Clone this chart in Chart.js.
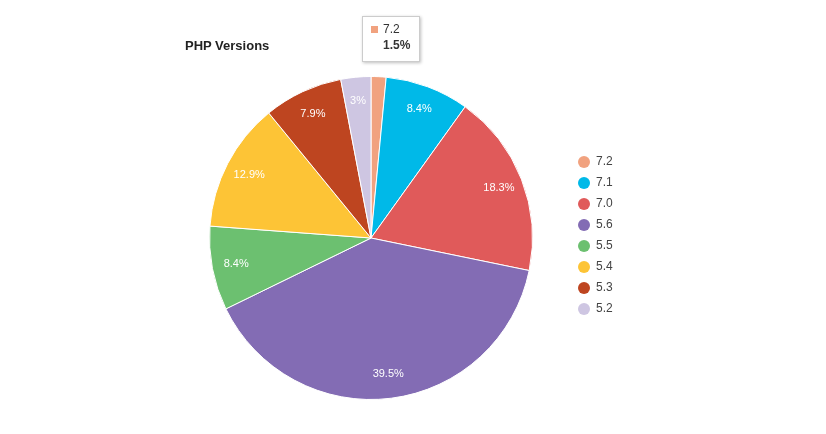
<!DOCTYPE html>
<html><head><meta charset="utf-8">
<script src="https://cdn.jsdelivr.net/npm/chart.js@4"></script>
<style>
body{margin:0;background:#fff;font-family:Arial,"Liberation Sans",sans-serif}
#wrap{position:relative;width:826px;height:434px}
#title{position:absolute;left:185px;top:38px;font-weight:bold;font-size:13px;color:#222}
#tip{position:absolute;left:362px;top:16px;width:56px;height:44px;background:#fff;border:1px solid #ccc;box-shadow:1px 1px 3px rgba(0,0,0,.25);font-size:12px;color:#333}
</style></head><body>
<div id="wrap"><div id="title">PHP Versions</div>
<canvas id="c" width="826" height="434"></canvas>
<div id="tip"><div style="position:absolute;left:8px;top:9px;width:7px;height:7px;background:#F1A27F"></div><div style="position:absolute;left:20px;top:5px">7.2</div><div style="position:absolute;left:20px;top:21px;font-weight:bold">1.5%</div></div>
</div>
<script>
const categories=["7.2","7.1","7.0","5.6","5.5","5.4","5.3","5.2"];
const values=[1.5,8.4,18.3,39.5,8.4,12.9,7.9,3];
const labels=["","8.4%","18.3%","39.5%","8.4%","12.9%","7.9%","3%"];
const colors=["#F1A27F","#00B9E8","#E05A5A","#836CB4","#6CC070","#FDC436","#BE4520","#CEC6E2"];
const deco={id:'deco',afterDatasetsDraw(ch){
 const ctx=ch.ctx;const arcs=ch.getDatasetMeta(0).data;
 ctx.save();ctx.font='11px Arial, "Liberation Sans"';ctx.fillStyle='#fff';ctx.textAlign='center';ctx.textBaseline='middle';
 arcs.forEach((a,i)=>{if(!labels[i])return;const m=(a.startAngle+a.endAngle)/2,r=a.outerRadius*0.85;
  ctx.fillText(labels[i],a.x+Math.cos(m)*r,a.y+Math.sin(m)*r);});
 ctx.textAlign='left';ctx.fillStyle='#444';ctx.font='12px Arial, "Liberation Sans"';
 categories.forEach((c,i)=>{const y=162+i*21;ctx.beginPath();ctx.arc(584,y,6,0,Math.PI*2);ctx.fillStyle=colors[i];ctx.fill();
  ctx.fillStyle='#444';ctx.fillText(c,596,y);});
 ctx.restore();}};
new Chart(document.getElementById('c'),{type:'pie',
 data:{labels:categories,datasets:[{data:values,backgroundColor:colors,borderColor:'#fff',borderWidth:1}]},
 options:{responsive:false,animation:false,layout:{padding:{left:209,right:293,top:76,bottom:34}},
  plugins:{legend:{display:false},tooltip:{enabled:false}}},plugins:[deco]});
</script></body></html>
